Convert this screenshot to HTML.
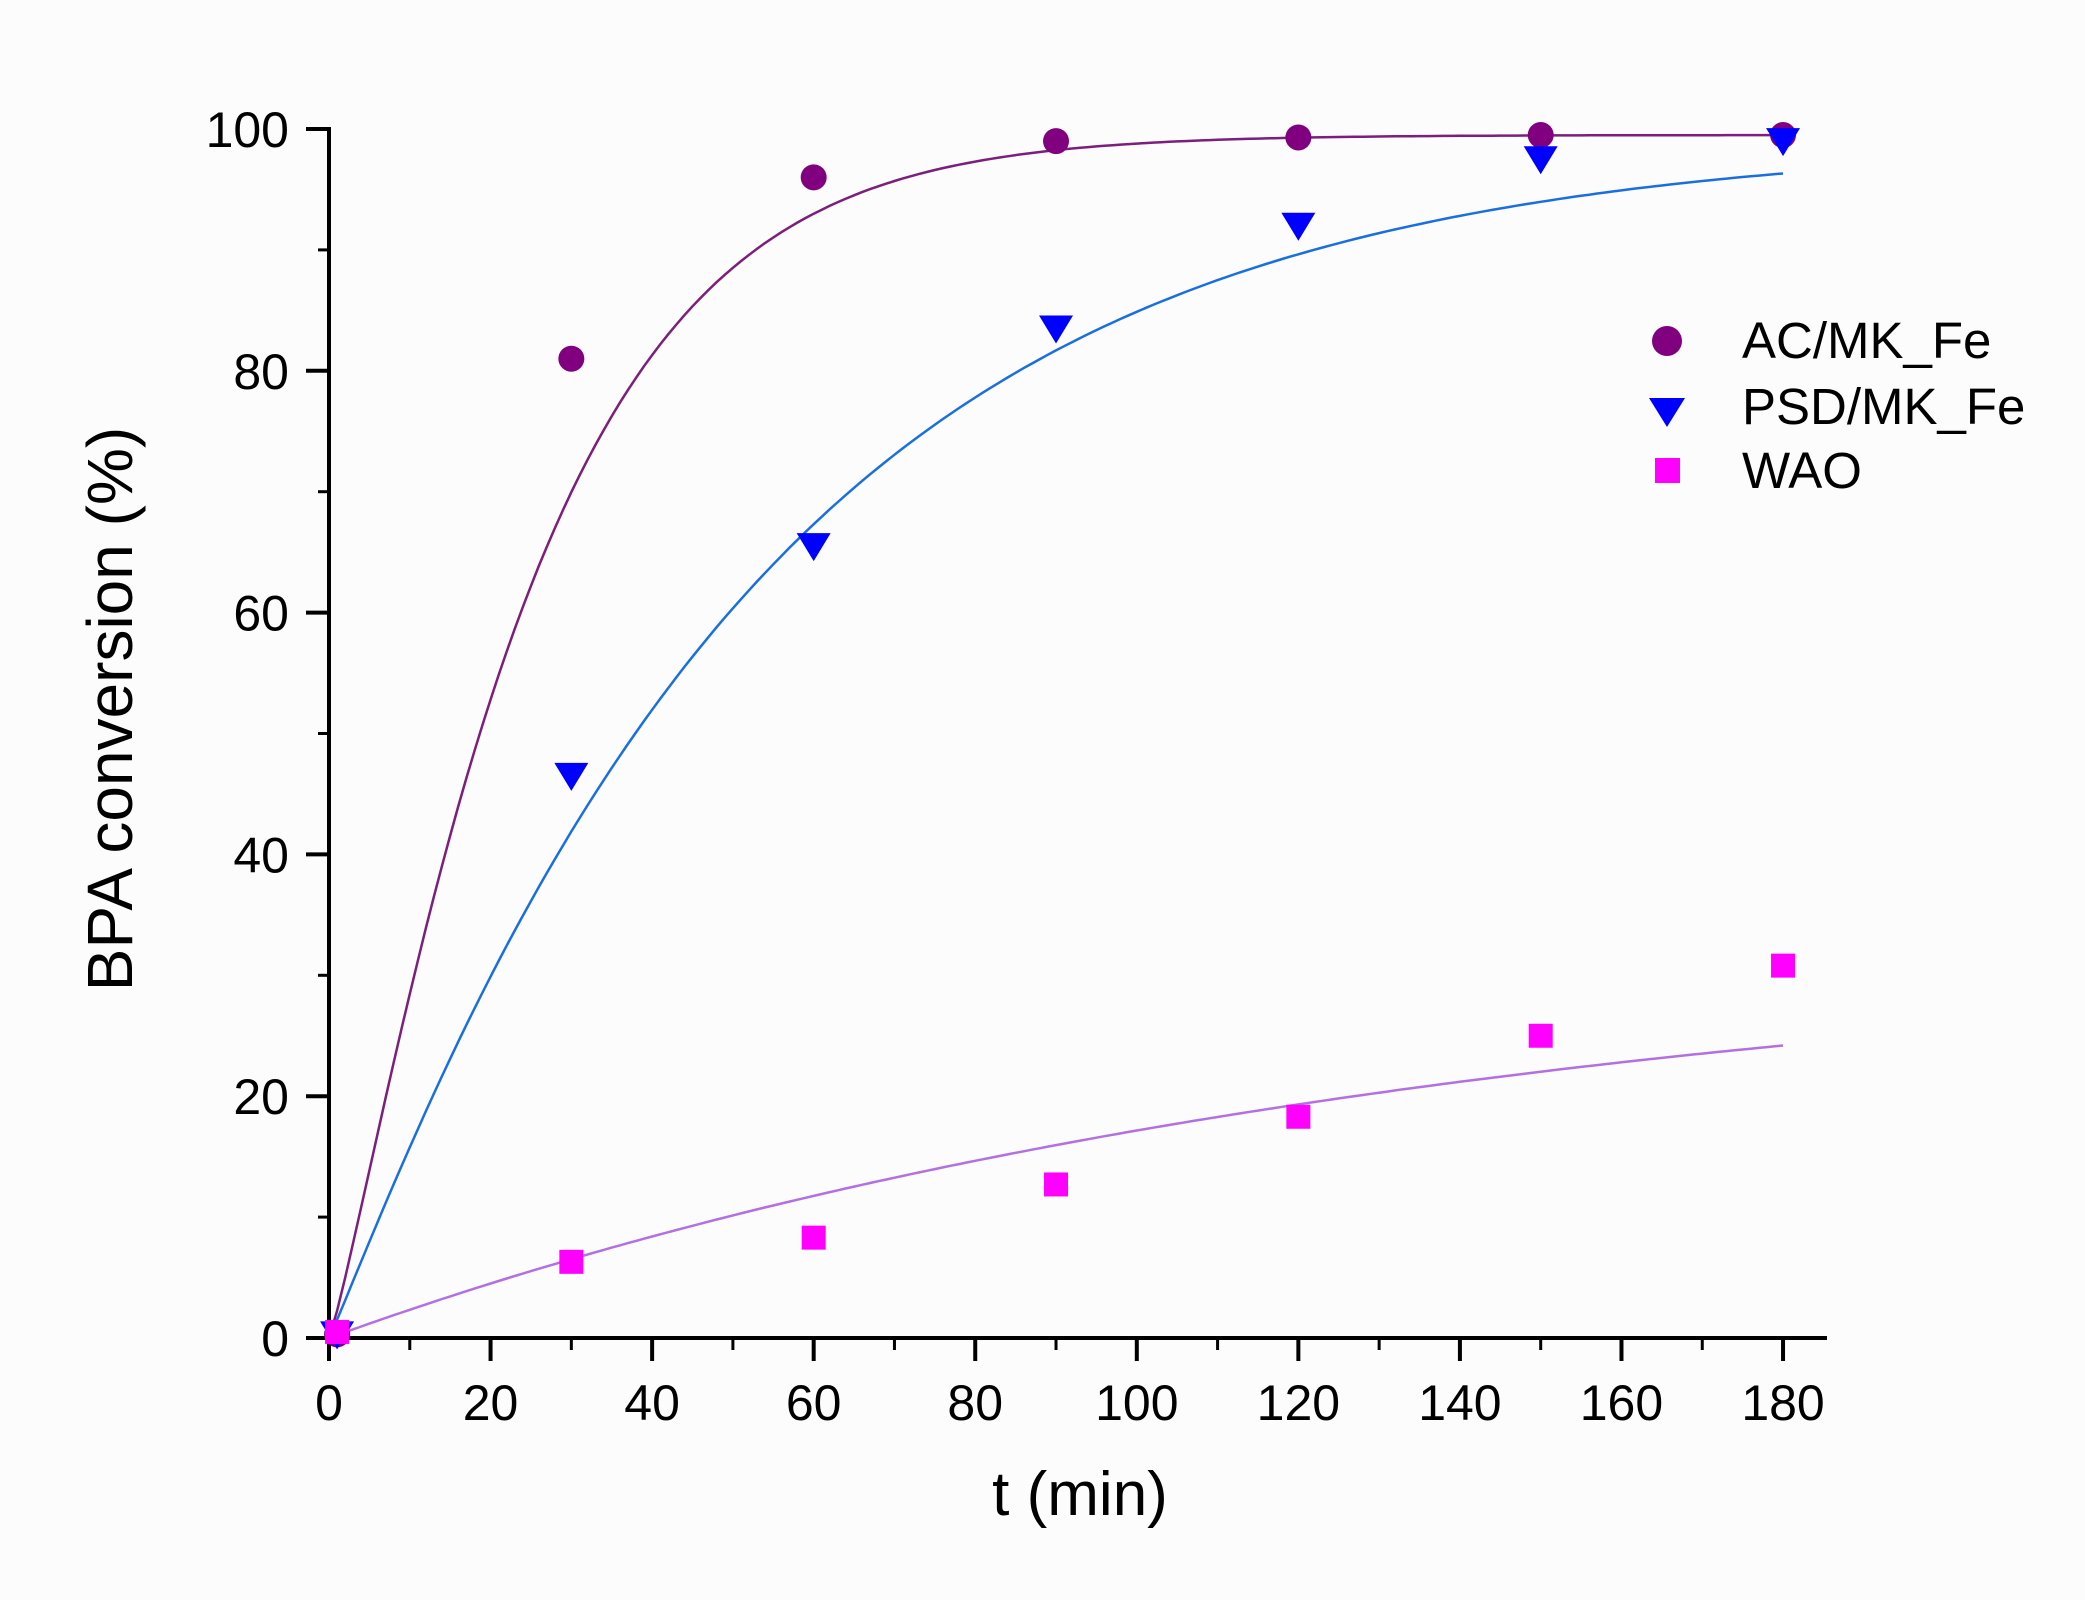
<!DOCTYPE html>
<html><head><meta charset="utf-8"><style>
html,body{margin:0;padding:0;background:#fff;}
svg{display:block;}
text{font-family:"Liberation Sans",Arial,sans-serif;fill:#000;}
</style></head><body>
<svg id="s" width="2085" height="1600" viewBox="0 0 2085 1600" xmlns="http://www.w3.org/2000/svg">
<rect width="2085" height="1600" fill="#fdfcfd"/>
<g id="axes" stroke="#000" stroke-width="4" fill="none"></g>
<g id="labels" font-size="50"></g>
<text x="132" y="709" font-size="64" text-anchor="middle" transform="rotate(-90 132 709)">BPA conversion (%)</text>
<text x="1080" y="1515" font-size="62" text-anchor="middle">t (min)</text>
<g id="curves" fill="none" stroke-width="2.5"></g>
<g id="pts"></g>
<g>
<circle cx="1667" cy="341" r="15" fill="#800080"/>
<polygon points="1649,398 1685,398 1667,427" fill="#0000ff"/>
<rect x="1655" y="458" width="25" height="25" fill="#ff00ff"/>
<text x="1742" y="358" font-size="51">AC/MK_Fe</text>
<text x="1742" y="424" font-size="51">PSD/MK_Fe</text>
<text x="1742" y="488" font-size="51">WAO</text>
</g>
</svg>
<script>
var NS="http://www.w3.org/2000/svg";
function X(t){return 329+t*8.078;}
function Y(v){return 1338-v*12.09;}
function el(p,tag,a,txt){var e=document.createElementNS(NS,tag);for(var k in a)e.setAttribute(k,a[k]);if(txt!==undefined)e.textContent=txt;document.getElementById(p).appendChild(e);return e;}
el('axes','line',{x1:329,y1:127,x2:329,y2:1340});
el('axes','line',{x1:327,y1:1338,x2:1827,y2:1338});
for(var v=0;v<=100;v+=10){var maj=v%20==0;el('axes','line',{x1:maj?306:318,y1:Y(v),x2:329,y2:Y(v),'stroke-width':maj?4:3});
 if(maj)el('labels','text',{x:289,y:Y(v)+18,'text-anchor':'end'},String(v));}
for(var t=0;t<=180;t+=10){var maj=t%20==0;el('axes','line',{x1:X(t),y1:1338,x2:X(t),y2:maj?1361:1350,'stroke-width':maj?4:3});
 if(maj)el('labels','text',{x:X(t),y:1420,'text-anchor':'middle'},String(t));}
function curve(f,col){var d='';for(var t=0;t<=180;t+=1){d+=(t?'L':'M')+X(t).toFixed(1)+','+Y(f(t)).toFixed(1);}el('curves','path',{d:d,stroke:col});}
curve(function(t){return 99.5*(1-Math.exp(-Math.pow(t/25.4,1.167)));},'#7b1f7b');
curve(function(t){return 99*(1-Math.exp(-Math.pow(t/53,1.05)));},'#1a6fe0');
curve(function(t){return 33*(1-Math.exp(-0.00734*t));},'#b370e0');
var ts=[1,30,60,90,120,150,180];
var ac=[0.3,81,96,99,99.3,99.5,99.5],ps=[0.3,46.5,65.5,83.5,92,97.5,99],wa=[0.5,6.3,8.3,12.7,18.3,25,30.8];
for(var i=0;i<7;i++){var x=X(ts[i]);
 el('pts','circle',{cx:x,cy:Y(ac[i]),r:13,fill:'#800080'});
 var y=Y(ps[i]);el('pts','polygon',{points:(x-17)+','+(y-13)+' '+(x+17)+','+(y-13)+' '+x+','+(y+15),fill:'#0000ff'});
 y=Y(wa[i]);el('pts','rect',{x:x-12,y:y-12,width:24,height:24,fill:'#ff00ff'});}
</script>
</body></html>
